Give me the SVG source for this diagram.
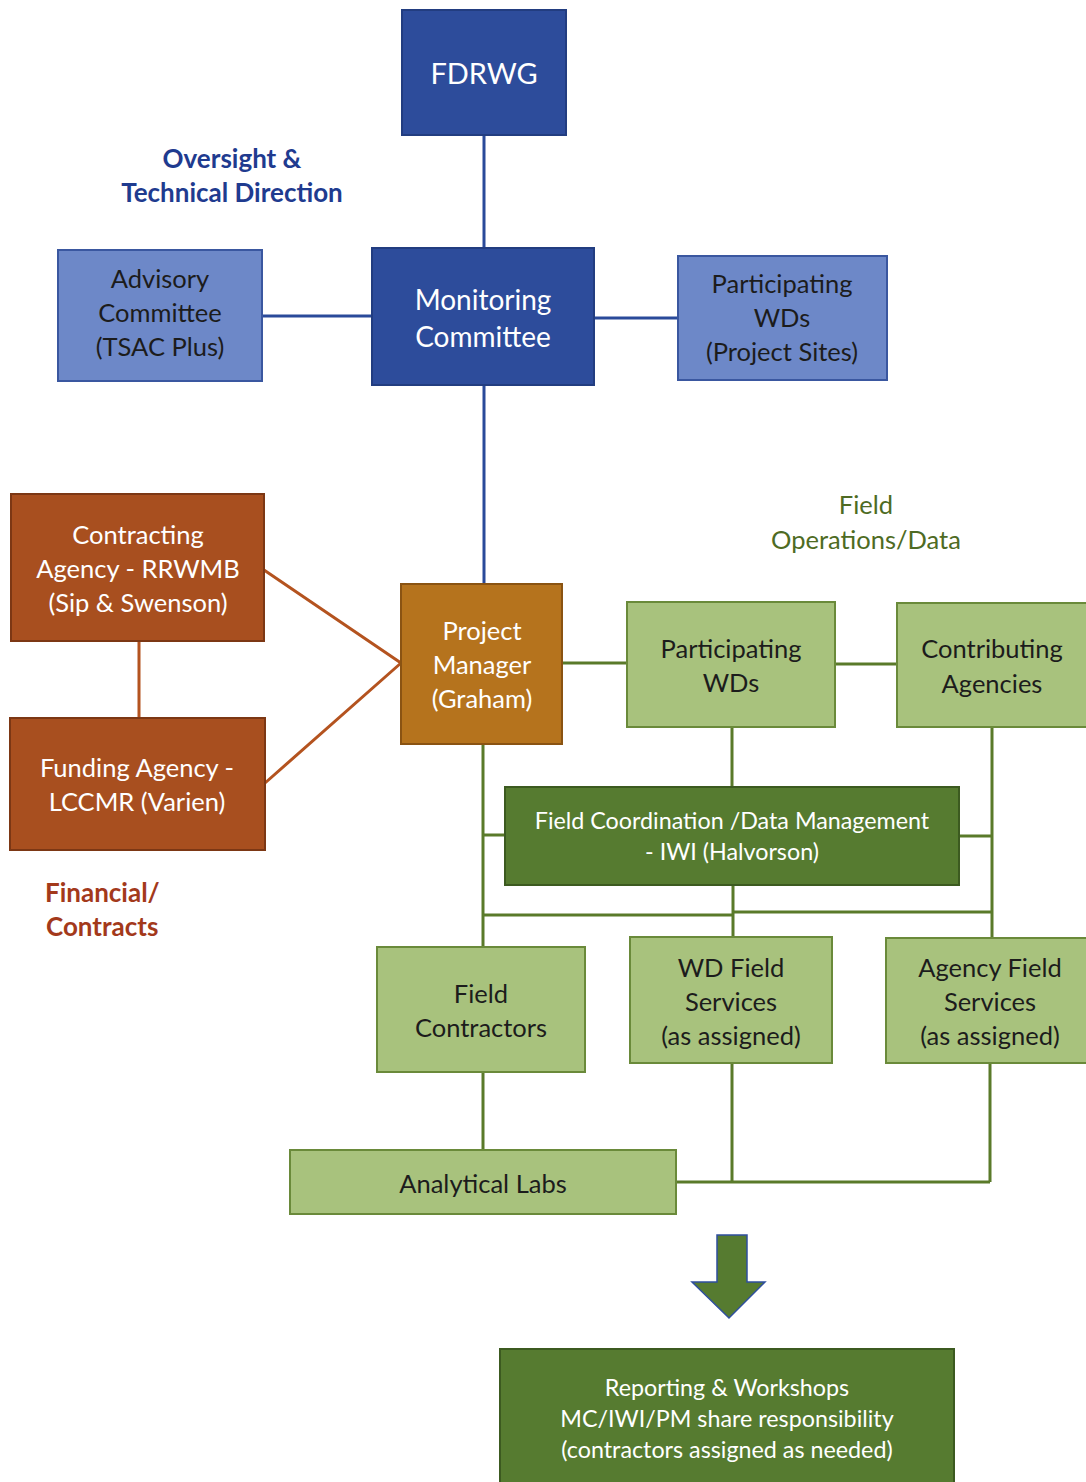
<svg xmlns="http://www.w3.org/2000/svg" width="1086" height="1482" viewBox="0 0 1086 1482">
<style>
text{font-family:Lato,"Open Sans","Liberation Sans",sans-serif;text-anchor:middle;font-size:25.5px}
.db{fill:#2d4c9b;stroke:#223d80;stroke-width:2}
.lb{fill:#6d88c8;stroke:#3a57a0;stroke-width:2}
.rust{fill:#a84f1f;stroke:#7c3714;stroke-width:2}
.pm{fill:#b5731d;stroke:#8a5312;stroke-width:2}
.lg{fill:#a8c27d;stroke:#6a8a3a;stroke-width:2}
.dg{fill:#567b30;stroke:#3c5a20;stroke-width:2}
.w{fill:#ffffff}
.k{fill:#1c1c1c}
.cb{stroke:#2a4a9a;stroke-width:3;fill:none}
.cr{stroke:#b4531f;stroke-width:3;fill:none}
.cg{stroke:#5a7a2a;stroke-width:3;fill:none}
.lab{font-weight:bold;font-size:26px}
text.big{font-size:29px}
text.mid{font-size:28px}
text.sm{font-size:23.3px}
</style>
<g id="connectors">
<path class="cb" d="M484 135V248M262 316H372M594 318H678M484 385V584"/>
<path class="cr" d="M139 641V718M264 570L401 663M265 783L401 663"/>
<path class="cg" d="M562 663H627M835 664H897M732 727V787M483 744V947M483 835H505M992 727V938M959 836H992M733 885V937M483 915H733M733 912H992M483 1072V1150M732 1063V1182M990 1063V1182M676 1182H990"/>
</g>
<g id="fdrwg"><rect class="db" x="402" y="10" width="164" height="125"/><text class="w big" x="484" y="84">FDRWG</text></g>
<g id="label-oversight"><text class="lab" fill="#1f3b8f" x="232" y="168">Oversight &amp;</text><text class="lab" fill="#1f3b8f" x="232" y="202">Technical Direction</text></g>
<g id="advisory"><rect class="lb" x="58" y="250" width="204" height="131"/><text class="k" x="160" y="288">Advisory</text><text class="k" x="160" y="322">Committee</text><text class="k" x="160" y="356">(TSAC Plus)</text></g>
<g id="monitoring"><rect class="db" x="372" y="248" width="222" height="137"/><text class="w mid" x="483" y="310">Monitoring</text><text class="w mid" x="483" y="347">Committee</text></g>
<g id="participating-sites"><rect class="lb" x="678" y="256" width="209" height="124"/><text class="k" x="782" y="293">Participating</text><text class="k" x="782" y="327">WDs</text><text class="k" x="782" y="361">(Project Sites)</text></g>
<g id="contracting"><rect class="rust" x="11" y="494" width="253" height="147"/><text class="w" x="138" y="544">Contracting</text><text class="w" x="138" y="578">Agency - RRWMB</text><text class="w" x="138" y="612">(Sip &amp; Swenson)</text></g>
<g id="funding"><rect class="rust" x="10" y="718" width="255" height="132"/><text class="w" x="137" y="777">Funding Agency -</text><text class="w" x="137" y="811">LCCMR (Varien)</text></g>
<g id="label-financial"><text class="lab" fill="#a3391b" x="45" y="902" style="text-anchor:start">Financial/</text><text class="lab" fill="#a3391b" x="46" y="936" style="text-anchor:start">Contracts</text></g>
<g id="pm"><rect class="pm" x="401" y="584" width="161" height="160"/><text class="w" x="482" y="640">Project</text><text class="w" x="482" y="674">Manager</text><text class="w" x="482" y="708">(Graham)</text></g>
<g id="label-field"><text fill="#4e6b23" x="866" y="514">Field</text><text fill="#4e6b23" x="866" y="549">Operations/Data</text></g>
<g id="participating-wds"><rect class="lg" x="627" y="602" width="208" height="125"/><text class="k" x="731" y="658">Participating</text><text class="k" x="731" y="692">WDs</text></g>
<g id="contributing"><rect class="lg" x="897" y="603" width="192" height="124"/><text class="k" x="992" y="658">Contributing</text><text class="k" x="992" y="693">Agencies</text></g>
<g id="fcdm"><rect class="dg" x="505" y="787" width="454" height="98"/><text class="w sm" x="732" y="829">Field Coordination /Data Management</text><text class="w sm" x="732" y="860">- IWI (Halvorson)</text></g>
<g id="field-contractors"><rect class="lg" x="377" y="947" width="208" height="125"/><text class="k" x="481" y="1003">Field</text><text class="k" x="481" y="1037">Contractors</text></g>
<g id="wd-field"><rect class="lg" x="630" y="937" width="202" height="126"/><text class="k" x="731" y="977">WD Field</text><text class="k" x="731" y="1011">Services</text><text class="k" x="731" y="1045">(as assigned)</text></g>
<g id="agency-field"><rect class="lg" x="886" y="938" width="203" height="125"/><text class="k" x="990" y="977">Agency Field</text><text class="k" x="990" y="1011">Services</text><text class="k" x="990" y="1045">(as assigned)</text></g>
<g id="labs"><rect class="lg" x="290" y="1150" width="386" height="64"/><text class="k" x="483" y="1193">Analytical Labs</text></g>
<g id="arrow"><path d="M717 1235H747V1282H765L729 1318L692 1282H717Z" fill="#567b30" stroke="#2f4f9e" stroke-width="1.5"/></g>
<g id="reporting"><rect class="dg" x="500" y="1349" width="454" height="140"/><text class="w sm" x="727" y="1396">Reporting &amp; Workshops</text><text class="w sm" x="727" y="1427">MC/IWI/PM share responsibility</text><text class="w sm" x="727" y="1458">(contractors assigned as needed)</text></g>
</svg>
